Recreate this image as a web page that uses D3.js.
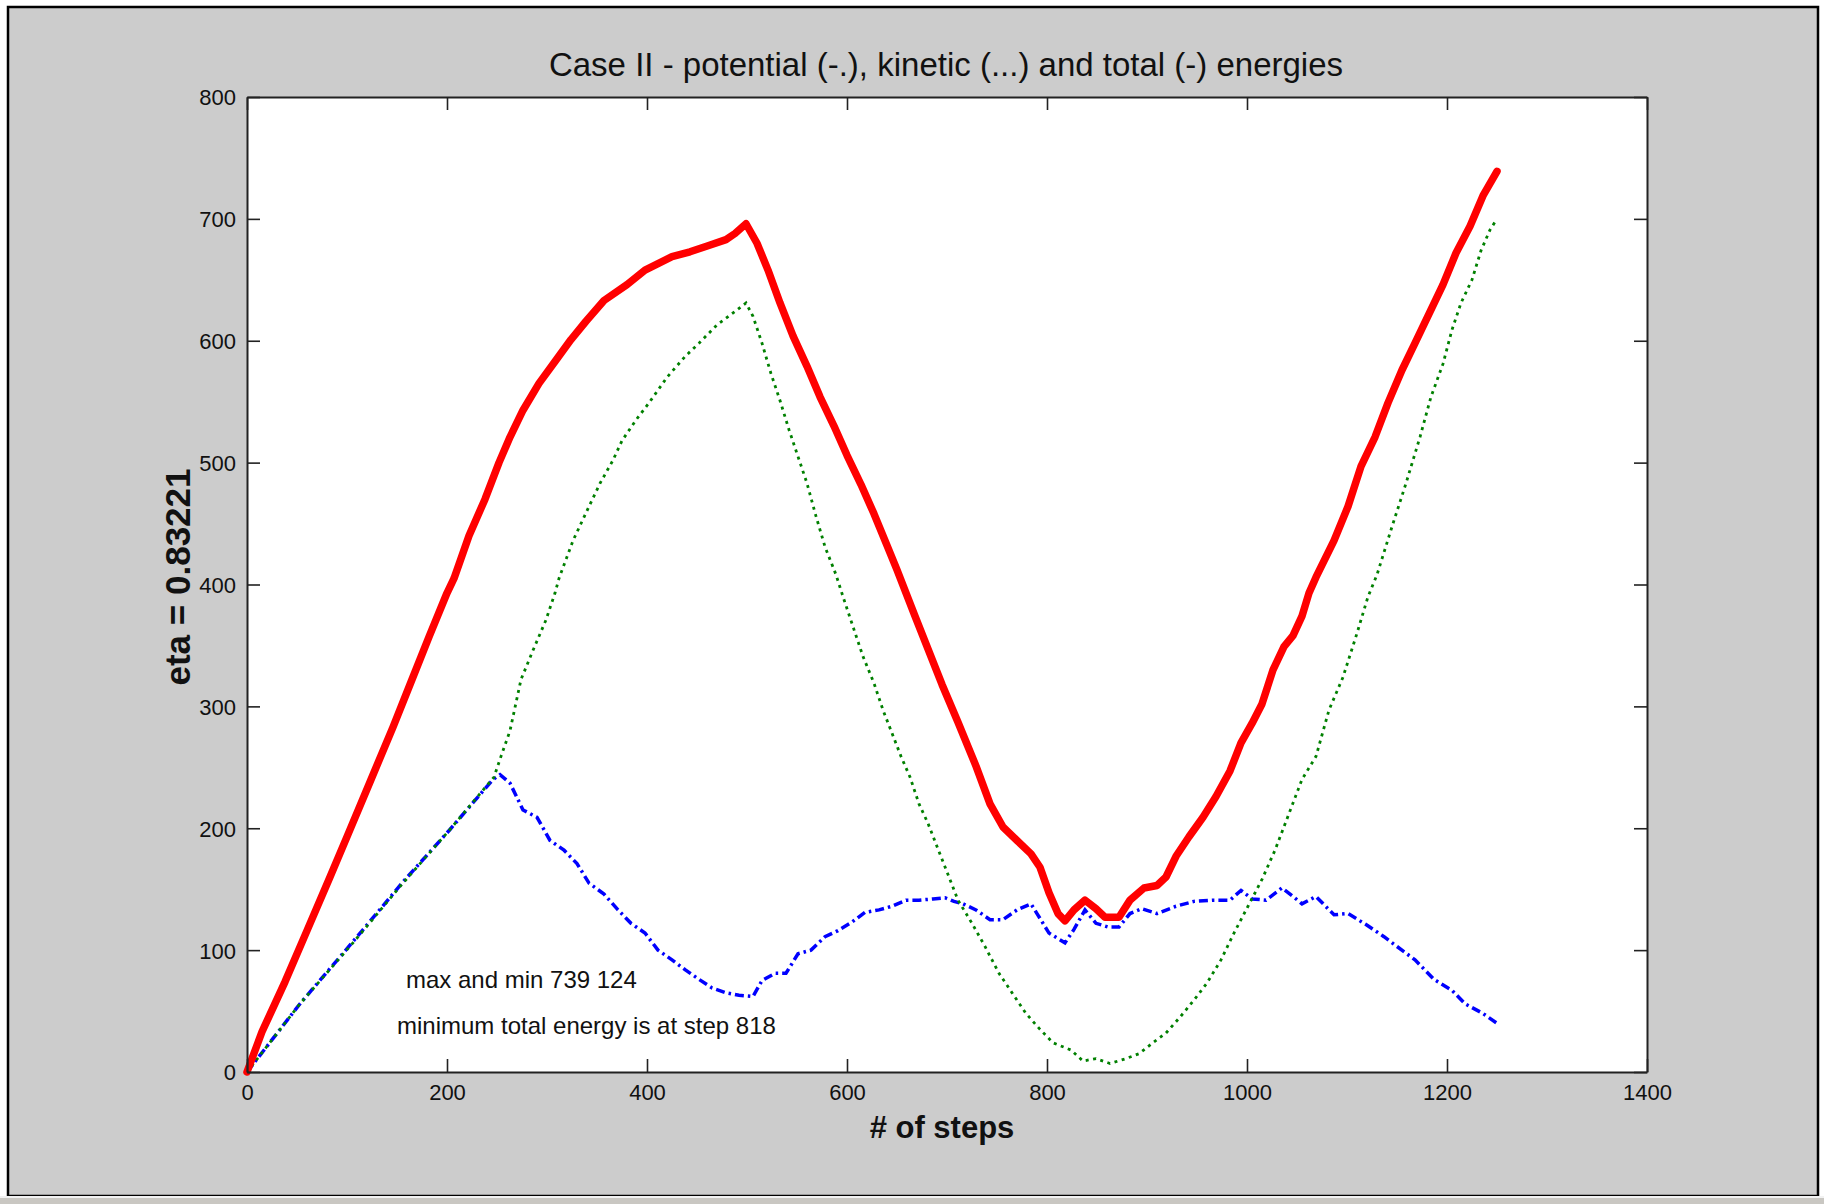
<!DOCTYPE html>
<html>
<head>
<meta charset="utf-8">
<script src="https://cdn.jsdelivr.net/npm/d3@7"></script>
<style>
  body { margin: 0; background: #fff; }
  svg { display: block; font-family: "Liberation Sans", Arial, sans-serif; }
</style>
</head>
<body>
<svg id="chart" width="1824" height="1204"></svg>
<script>
// values
const potentialSteps  = [0, 53, 106, 156, 203, 246, 253, 263, 276, 290, 303, 317, 330, 342, 357, 371, 384, 398, 411, 425, 438, 452, 465, 479, 492, 506, 515, 528, 539, 551, 564, 578, 591, 605, 618, 632, 645, 659, 672, 686, 698, 707, 716, 729, 743, 756, 770, 784, 790, 802, 818, 827, 838, 849, 861, 872, 883, 895, 910, 929, 947, 965, 983, 994, 1005, 1019, 1035, 1046, 1055, 1069, 1087, 1101, 1119, 1137, 1150, 1168, 1187, 1205, 1218, 1236, 1250];
const potentialValues = [0, 56, 107, 156, 199, 240, 244, 237, 215, 209, 190, 182, 171, 155, 146, 133, 122, 114, 100, 92, 84, 76, 69, 65, 63, 62, 75, 81, 81, 97, 100, 111, 116, 123, 131, 133, 136, 141, 141, 142, 143, 140, 138, 133, 125, 125, 133, 138, 130, 114, 106, 117, 133, 122, 119, 119, 130, 134, 130, 136, 140, 141, 141, 149, 142, 141, 151, 144, 138, 144, 129, 130, 121, 111, 103, 92, 76, 67, 56, 48, 40];

const kineticSteps  = [0, 53, 106, 156, 203, 247, 254, 263, 274, 285, 299, 308, 312, 326, 342, 353, 366, 375, 389, 402, 420, 438, 452, 470, 488, 499, 506, 515, 524, 533, 542, 551, 560, 569, 578, 589, 596, 607, 616, 627, 636, 645, 654, 663, 672, 681, 690, 702, 711, 725, 738, 752, 765, 779, 793, 806, 824, 836, 849, 863, 879, 892, 906, 919, 933, 947, 960, 974, 987, 1001, 1015, 1028, 1042, 1055, 1069, 1082, 1096, 1110, 1121, 1130, 1146, 1159, 1173, 1184, 1196, 1205, 1214, 1225, 1234, 1243, 1250];
const kineticValues = [0, 56, 106, 155, 199, 242, 259, 280, 322, 344, 371, 393, 405, 436, 464, 483, 502, 518, 535, 549, 570, 587, 598, 613, 624, 631, 620, 598, 573, 551, 527, 505, 483, 456, 431, 408, 390, 363, 341, 319, 297, 278, 259, 242, 220, 204, 185, 160, 141, 122, 103, 81, 65, 48, 35, 24, 18, 9, 11, 7, 11, 15, 24, 32, 45, 59, 73, 92, 114, 136, 158, 182, 212, 240, 259, 297, 324, 360, 390, 408, 450, 483, 521, 554, 581, 609, 631, 650, 674, 691, 700];

const totalSteps  = [0, 15, 38, 60, 83, 101, 123, 146, 164, 182, 200, 207, 222, 238, 252, 263, 276, 292, 308, 324, 339, 357, 380, 398, 425, 443, 461, 479, 488, 499, 510, 521, 533, 546, 560, 573, 587, 600, 614, 627, 641, 650, 668, 695, 711, 729, 743, 756, 770, 784, 793, 802, 811, 818, 827, 838, 849, 858, 872, 883, 897, 910, 919, 929, 942, 956, 969, 983, 994, 1005, 1015, 1026, 1037, 1046, 1055, 1062, 1069, 1087, 1101, 1114, 1128, 1141, 1155, 1168, 1182, 1196, 1209, 1223, 1236, 1250];
const totalValues = [0, 33, 74, 116, 160, 195, 238, 283, 320, 357, 393, 405, 440, 470, 500, 521, 543, 565, 583, 601, 616, 633, 646, 658, 669, 673, 678, 683, 688, 696, 680, 658, 631, 604, 579, 554, 530, 506, 482, 458, 430, 412, 374, 318, 287, 251, 220, 201, 190, 179, 168, 147, 130, 124, 133, 141, 134, 127, 127, 141, 151, 153, 160, 177, 193, 209, 226, 247, 270, 286, 302, 330, 349, 358, 374, 393, 406, 436, 464, 497, 521, 549, 576, 598, 622, 646, 672, 694, 719, 739];

const xTicks = [0, 200, 400, 600, 800, 1000, 1200, 1400];
const yTicks = [0, 100, 200, 300, 400, 500, 600, 700, 800];

const titleText = 'Case II - potential (-.), kinetic (...) and total (-) energies';
const xLabel = '# of steps';
const yLabel = 'eta = 0.83221';
const notes = ['max and min 739 124', 'minimum total energy is at step 818'];

const svg = d3.select('#chart');

// figure window
svg.append('rect')
  .attr('x', 8).attr('y', 7)
  .attr('width', 1810).attr('height', 1189)
  .attr('fill', '#cccccc')
  .attr('stroke', '#000').attr('stroke-width', 2.5);

svg.append('rect')
  .attr('x', 0).attr('y', 1196)
  .attr('width', 1824).attr('height', 2)
  .attr('fill', '#f2f2f2');
svg.append('rect')
  .attr('x', 0).attr('y', 1198)
  .attr('width', 1824).attr('height', 6)
  .attr('fill', '#c9c7c2');

const margin = { left: 247, right: 177, top: 97, bottom: 132 };
const width  = 1824 - margin.left - margin.right;
const height = 1204 - margin.top - margin.bottom;

const g = svg.append('g')
  .attr('transform', `translate(${margin.left}, ${margin.top})`);

g.append('rect')
  .attr('width', width).attr('height', height)
  .attr('fill', '#fff');

const x = d3.scaleLinear().domain([0, 1400]).range([0, width]);
const y = d3.scaleLinear().domain([0, 800]).range([height, 0]);

const line = d3.line()
  .x(d => x(d[0]))
  .y(d => y(d[1]));

const potential = potentialSteps.map((s, i) => [s, potentialValues[i]]);
const kinetic   = kineticSteps.map((s, i) => [s, kineticValues[i]]);
const total     = totalSteps.map((s, i) => [s, totalValues[i]]);

g.append('path')
  .datum(potential)
  .attr('fill', 'none')
  .attr('stroke', '#0000ff')
  .attr('stroke-width', 3.5)
  .attr('stroke-dasharray', '9 4 2.5 4')
  .attr('d', line);

g.append('path')
  .datum(kinetic)
  .attr('fill', 'none')
  .attr('stroke', '#008000')
  .attr('stroke-width', 2.8)
  .attr('stroke-dasharray', '3 4.5')
  .attr('d', line);

g.append('path')
  .datum(total)
  .attr('fill', 'none')
  .attr('stroke', '#ff0000')
  .attr('stroke-width', 7.5)
  .attr('stroke-linejoin', 'round')
  .attr('stroke-linecap', 'round')
  .attr('d', line);

// axes, ticks pointing inward on all four sides
const styleAxis = sel => {
  sel.select('.domain').attr('stroke', '#222').attr('stroke-width', 2);
  sel.selectAll('.tick line').attr('stroke', '#222').attr('stroke-width', 1.6);
  sel.selectAll('.tick text')
    .attr('fill', '#111')
    .attr('font-size', 22)
    .attr('font-family', '"Liberation Sans", Arial, sans-serif');
};

const fmt = d3.format('d');

g.append('g')
  .attr('transform', `translate(0, ${height})`)
  .call(d3.axisBottom(x).tickValues(xTicks).tickFormat(fmt).tickSizeInner(-13).tickSizeOuter(0).tickPadding(12))
  .call(styleAxis);

g.append('g')
  .call(d3.axisLeft(y).tickValues(yTicks).tickFormat(fmt).tickSizeInner(-13).tickSizeOuter(0).tickPadding(11))
  .call(styleAxis)
  .selectAll('.tick text').attr('dy', '0.36em');

g.append('g')
  .call(d3.axisTop(x).tickValues(xTicks).tickSizeInner(-13).tickSizeOuter(0).tickFormat(''))
  .call(styleAxis);

g.append('g')
  .attr('transform', `translate(${width}, 0)`)
  .call(d3.axisRight(y).tickValues(yTicks).tickSizeInner(-13).tickSizeOuter(0).tickFormat(''))
  .call(styleAxis);

// notes inside the plot
g.append('text')
  .attr('x', x(159)).attr('y', y(69))
  .attr('font-size', 24).attr('fill', '#111')
  .text(notes[0]);

g.append('text')
  .attr('x', x(150)).attr('y', y(31))
  .attr('font-size', 24).attr('fill', '#111')
  .text(notes[1]);

// title and labels
svg.append('text')
  .attr('x', 946).attr('y', 76)
  .attr('text-anchor', 'middle')
  .attr('font-size', 33).attr('fill', '#111')
  .text(titleText);

svg.append('text')
  .attr('x', 942).attr('y', 1138)
  .attr('text-anchor', 'middle')
  .attr('font-size', 31).attr('font-weight', 'bold').attr('fill', '#111')
  .text(xLabel);

svg.append('text')
  .attr('transform', 'translate(190, 577) rotate(-90)')
  .attr('text-anchor', 'middle')
  .attr('font-size', 35).attr('font-weight', 'bold').attr('fill', '#111')
  .text(yLabel);
</script>
</body>
</html>
